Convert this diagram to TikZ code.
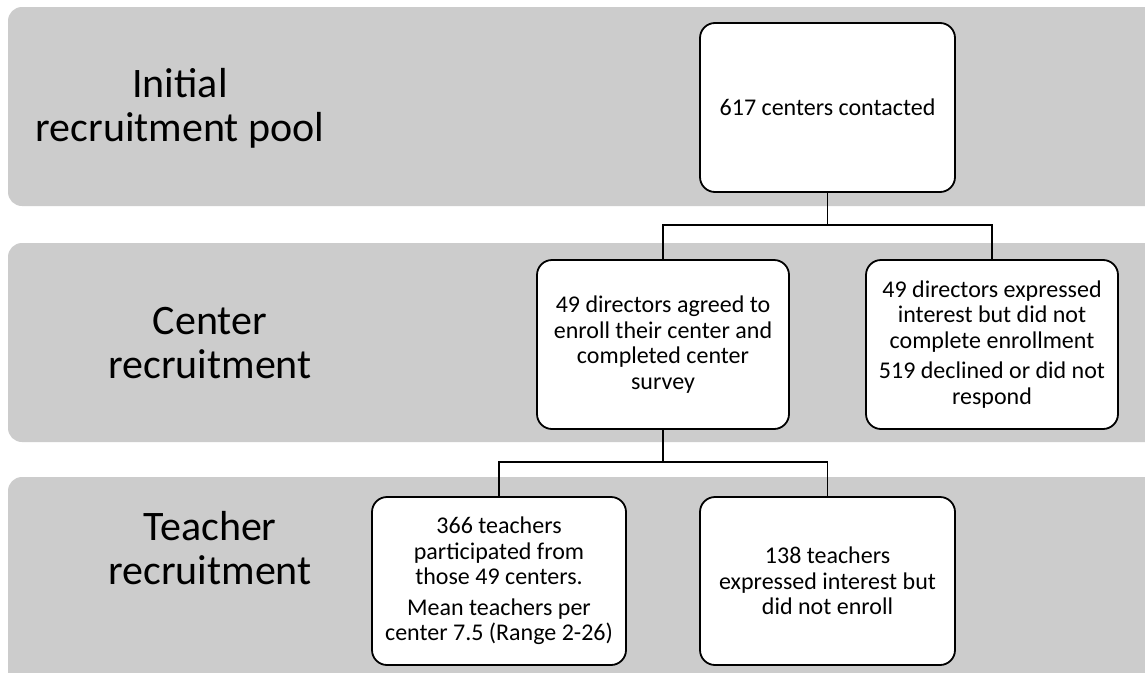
\documentclass[tikz,border=0pt]{standalone}
\usepackage{fontspec}
\setmainfont{Carlito}
\definecolor{bandgray}{RGB}{204,204,204}
\begin{document}
\begin{tikzpicture}[x=1pt,y=-1pt,
  band/.style={fill=bandgray, draw=none, rounded corners=14pt},
  bandlabel/.style={font=\fontsize{42}{44}\selectfont, align=center, inner sep=0pt},
  flowbox/.style={draw=black, line width=1.8pt, fill=white, rounded corners=15pt,
    align=center, font=\fontsize{24}{25.5}\selectfont, inner sep=0pt},
  link/.style={draw=black, line width=1.8pt}]
\useasboundingbox (0,0) rectangle (1145,672);
\clip (0,0) rectangle (1145,672);
\fill[white] (0,0) rectangle (1145,672);
% bands
\path[band] (8,7) rectangle (1170,206);
\path[band] (8,243) rectangle (1170,442);
\path[band] (8,477) rectangle (1170,700);
% band labels
\node[bandlabel] (L1) at (180,108) {Initial\\recruitment pool};
\node[bandlabel] (L2) at (210,343) {Center\\recruitment};
\node[bandlabel] (L3) at (210,548) {Teacher\\recruitment};
% boxes
\node[flowbox, minimum width=255pt, minimum height=169pt] (A) at (827.5,107.5) {617 centers contacted};
\node[flowbox, minimum width=252pt, minimum height=169pt] (B) at (663,344.5)
  {49 directors agreed to\\enroll their center and\\completed center\\survey};
\node[flowbox, minimum width=252pt, minimum height=169pt] (C) at (992,344.5)
  {49 directors expressed\\interest but did not\\complete enrollment\\[5pt]519 declined or did not\\respond};
\node[flowbox, minimum width=254pt, minimum height=168pt] (D) at (499,581)
  {366 teachers\\participated from\\those 49 centers.\\[5pt]Mean teachers per\\center 7.5 (Range 2-26)};
\node[flowbox, minimum width=255pt, minimum height=168pt] (E) at (827.5,581)
  {138 teachers\\expressed interest but\\did not enroll};
% connectors
\coordinate (J1) at (827.5,225);
\coordinate (J2) at (663,462);
\draw[link] (A.south) -- (J1);
\draw[link] (J1) -| (B.north);
\draw[link] (J1) -| (C.north);
\draw[link] (B.south) -- (J2);
\draw[link] (J2) -| (D.north);
\draw[link] (J2) -| (E.north);
\end{tikzpicture}
\end{document}
